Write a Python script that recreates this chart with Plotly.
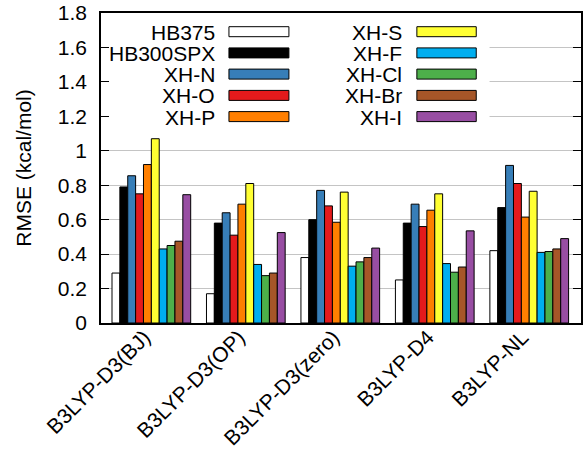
import plotly.graph_objects as go

methods = ["B3LYP-D3(BJ)", "B3LYP-D3(OP)", "B3LYP-D3(zero)", "B3LYP-D4", "B3LYP-NL"]

hb375    = [0.29, 0.17, 0.38, 0.25, 0.42]
hb300spx = [0.79, 0.58, 0.60, 0.58, 0.67]
xh_n     = [0.855, 0.64, 0.77, 0.69, 0.915]
xh_o     = [0.75, 0.51, 0.68, 0.56, 0.81]
xh_p     = [0.92, 0.69, 0.585, 0.655, 0.615]
xh_s     = [1.07, 0.81, 0.76, 0.75, 0.765]
xh_f     = [0.43, 0.34, 0.33, 0.345, 0.41]
xh_cl    = [0.45, 0.275, 0.355, 0.295, 0.415]
xh_br    = [0.475, 0.29, 0.38, 0.325, 0.43]
xh_i     = [0.745, 0.525, 0.435, 0.535, 0.49]

series_names = ["HB375", "HB300SPX", "XH-N", "XH-O", "XH-P",
                "XH-S", "XH-F", "XH-Cl", "XH-Br", "XH-I"]
series_values = [hb375, hb300spx, xh_n, xh_o, xh_p, xh_s, xh_f, xh_cl, xh_br, xh_i]
series_colors = ["#ffffff", "#000000", "#377eb8", "#e41a1c", "#ff7f00",
                 "#ffff33", "#00aeef", "#4daf4a", "#a65628", "#984ea3"]

y_ticks = [0, 0.2, 0.4, 0.6, 0.8, 1.0, 1.2, 1.4, 1.6, 1.8]

FONT = "Liberation Sans, Arial, sans-serif"
FS = 21
W, H = 583, 451
PL, PR, PT, PB = 101.3, 581.5, 13, 323  # plot area in pixels

def px(xp):
    return (xp - PL) / (PR - PL)

def py(yp):
    return (PB - yp) / (PB - PT)

fig = go.Figure()
xs = list(range(len(methods)))
for name, vals, col in zip(series_names, series_values, series_colors):
    fig.add_trace(go.Bar(
        x=xs, y=vals, name=name, showlegend=False,
        marker=dict(color=col, line=dict(color="black", width=1)),
    ))

# legend (gnuplot style: label right-aligned, swatch to the right)
shapes = [dict(type="rect", xref="x", yref="y", x0=-0.533, x1=3.58, y0=1.12, y1=1.8,
               fillcolor="white", line=dict(width=0), layer="between")]
annotations = []
row_y = [31.7, 52.9, 74.1, 95.4, 116.6]
cols = [(216, 229.3, 289.3), (403.3, 417.3, 476.7)]
for i, (name, col) in enumerate(zip(series_names, series_colors)):
    c = cols[i // 5]
    ry = row_y[i % 5]
    annotations.append(dict(
        xref="paper", yref="paper", x=px(c[0]), y=py(ry + 0.5), text=name,
        showarrow=False, xanchor="right", yanchor="middle", borderpad=0,
        font=dict(family=FONT, size=FS, color="black"),
    ))
    shapes.append(dict(
        type="rect", xref="paper", yref="paper",
        x0=px(c[1]), x1=px(c[2]), y0=py(ry + 5), y1=py(ry - 5),
        fillcolor=col, line=dict(color="black", width=1), layer="above",
    ))

fig.update_layout(
    width=W, height=H,
    margin=dict(l=PL, r=W - PR, t=PT, b=H - PB),
    paper_bgcolor="white", plot_bgcolor="white",
    barmode="group", bargap=0.167, bargroupgap=0,
    font=dict(family=FONT, size=FS, color="black"),
    shapes=shapes, annotations=annotations,
    xaxis=dict(
        range=[-0.533, 4.548], tickmode="array", tickvals=xs, ticktext=methods,
        tickangle=-45, ticks="", showgrid=False, zeroline=False,
        showline=True, linecolor="black", linewidth=1.5, mirror=True,
        ticklabelshift=-7, ticklabelstandoff=-8, automargin=False,
        tickfont=dict(family=FONT, size=FS, color="black"),
    ),
    yaxis=dict(
        range=[0, 1.8], tickmode="array", tickvals=y_ticks,
        ticks="inside", ticklen=8, tickcolor="black", tickwidth=1,
        showgrid=True, gridcolor="#c4c4c4", gridwidth=1, zeroline=False,
        showline=True, linecolor="black", linewidth=1.5, mirror="ticks",
        ticklabelstandoff=8, automargin=False,
        tickfont=dict(family=FONT, size=FS, color="black"),
        title=dict(text="RMSE (kcal/mol)", standoff=20,
                   font=dict(family=FONT, size=FS, color="black")),
    ),
)

fig.write_html("out.html")
